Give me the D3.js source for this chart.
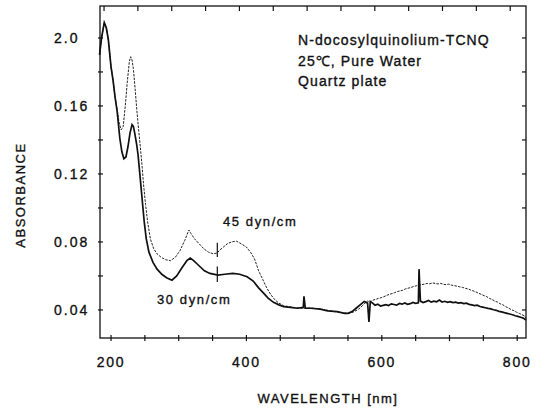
<!DOCTYPE html>
<html>
<head>
<meta charset="utf-8">
<script src="https://cdn.jsdelivr.net/npm/d3@7"></script>
<style>
  html, body { margin: 0; padding: 0; background: #fff; }
  svg { display: block; }
  text { font-family: "Liberation Sans", Arial, Helvetica, sans-serif; fill: #111; stroke: #111; stroke-width: 0.35; }
</style>
</head>
<body>
<svg id="chart" width="540" height="410"></svg>
<script>
// ---------------- data ----------------
const xTickValues = [200, 250, 300, 350, 400, 450, 500, 550, 600, 650, 700, 750, 800];
const xLabelValues = [200, 400, 600, 800];
const xLabels = ["200", "400", "600", "800"];
const yTickValues = [0.04, 0.06, 0.08, 0.10, 0.12, 0.14, 0.16, 0.18, 0.20];
const yLabelValues = [0.04, 0.08, 0.12, 0.16, 0.20];
const yLabels = ["0.04", "0.08", "0.12", "0.16", "2.0"];

const seriesNames = ["45 dyn/cm", "30 dyn/cm"];

// 45 dyn/cm (upper, dotted trace)
const wl45 = [183, 186, 190, 193, 196, 200, 203, 206, 209, 212, 215, 218, 221, 224, 227, 229, 231, 233, 236, 238,
  241, 243, 246, 248, 251, 254, 258, 263, 268, 274, 281, 288, 295, 302, 309, 315, 318, 323, 330, 337,
  344, 351, 357, 360, 366, 372, 378, 385, 392, 400, 406, 412, 418, 424, 430, 436, 442, 448, 455, 462,
  470, 480, 490, 500, 510, 520, 530, 540, 550, 558, 566, 575,
  579, 583, 587, 591, 595, 599, 603, 607, 611, 615, 619, 623, 627, 631, 635, 639, 643, 647, 651, 655,
  659, 663, 667, 671, 675, 679, 683, 687, 691, 695, 699, 703, 707, 711, 715, 719, 723, 727, 731, 735,
  739, 743, 747, 751, 755, 759, 763, 767, 771, 775, 779, 783, 787, 791, 795, 799, 803, 807, 811, 813];
const abs45 = [0.190, 0.200, 0.209, 0.206, 0.199, 0.183, 0.175, 0.165, 0.158, 0.150, 0.146, 0.148, 0.160, 0.174, 0.186, 0.189, 0.187, 0.182, 0.168, 0.158,
  0.145, 0.137, 0.124, 0.114, 0.102, 0.092, 0.082, 0.076, 0.073, 0.071, 0.0695, 0.069, 0.071, 0.075, 0.081, 0.087, 0.085, 0.082, 0.079, 0.076,
  0.074, 0.073, 0.0735, 0.075, 0.077, 0.079, 0.080, 0.0805, 0.079, 0.077, 0.074, 0.070, 0.063, 0.058, 0.053, 0.049, 0.046, 0.044, 0.0425, 0.042,
  0.0415, 0.041, 0.0412, 0.041, 0.0405, 0.0398, 0.039, 0.0385, 0.038, 0.0388, 0.0405, 0.044,
  0.0452, 0.0446, 0.0458, 0.0462, 0.0468, 0.0472, 0.0478, 0.0485, 0.0492, 0.0496, 0.0502, 0.0508, 0.0512, 0.0516, 0.0524, 0.0528, 0.0532, 0.0538, 0.0542, 0.0546,
  0.0549, 0.0552, 0.0556, 0.0554, 0.0559, 0.0556, 0.0553, 0.0556, 0.0551, 0.0549, 0.0552, 0.0546, 0.0543, 0.0540, 0.0536, 0.0533, 0.0528, 0.0524, 0.0518, 0.0512,
  0.0506, 0.0498, 0.0492, 0.0484, 0.0478, 0.0468, 0.0461, 0.0452, 0.0446, 0.0436, 0.0430, 0.0419, 0.0412, 0.0402, 0.0396, 0.0387, 0.0380, 0.0372, 0.0365, 0.035];

// 30 dyn/cm (lower, solid trace)
const wl30 = [183, 186, 190, 193, 196, 200, 203, 206, 209, 213, 216, 219, 222, 225, 228, 231, 233, 235, 238, 240,
  243, 246, 249, 252, 256, 262, 268, 275, 282, 290, 297, 305, 312, 317, 322, 330, 338, 346, 358, 368,
  380, 390, 401, 410, 418, 425, 432, 440, 448, 455, 465, 475, 484, 485, 487, 495, 509, 520, 534, 545,
  550, 556, 562, 568, 574, 579, 581, 583,
  586, 590, 594, 598, 602, 606, 610, 614, 618, 622, 626, 630, 634, 638, 642, 646, 650, 654, 655, 657,
  661, 665, 669, 673, 677, 681, 685, 689, 693, 697, 701, 705, 709, 713, 717, 721, 725, 729, 733, 737,
  741, 745, 749, 753, 757, 761, 765, 769, 773, 777, 781, 785, 789, 793, 797, 801, 805, 809, 813];
const abs30 = [0.190, 0.200, 0.209, 0.206, 0.199, 0.183, 0.175, 0.165, 0.157, 0.141, 0.133, 0.129, 0.130, 0.136, 0.144, 0.149, 0.148, 0.144, 0.137, 0.131,
  0.118, 0.105, 0.092, 0.082, 0.074, 0.068, 0.064, 0.061, 0.059, 0.0575, 0.060, 0.065, 0.069, 0.0705, 0.069, 0.066, 0.063, 0.0615, 0.0605, 0.061,
  0.0615, 0.061, 0.0595, 0.057, 0.053, 0.050, 0.047, 0.0445, 0.043, 0.042, 0.0415, 0.041, 0.0415, 0.048, 0.041, 0.041, 0.0405, 0.0395, 0.039, 0.038,
  0.038, 0.039, 0.041, 0.043, 0.045, 0.044, 0.033, 0.045,
  0.0442, 0.0428, 0.0434, 0.0423, 0.0427, 0.0431, 0.0426, 0.0436, 0.0432, 0.0428, 0.0438, 0.0434, 0.0441, 0.0433, 0.0437, 0.0444, 0.0439, 0.0442, 0.064, 0.0452,
  0.0444, 0.0449, 0.0456, 0.0446, 0.0452, 0.0448, 0.0458, 0.0447, 0.0451, 0.0445, 0.0449, 0.0443, 0.0446, 0.0440, 0.0443, 0.0437, 0.0440, 0.0433, 0.0430, 0.0426,
  0.0428, 0.0420, 0.0417, 0.0413, 0.0409, 0.0406, 0.0401, 0.0398, 0.0392, 0.0389, 0.0384, 0.0380, 0.0376, 0.0372, 0.0366, 0.0362, 0.0357, 0.0352, 0.034];

// vertical instrument marks crossing the traces near 357 nm
const markNm = [357, 357];
const markLo = [0.0712, 0.0565];
const markHi = [0.0795, 0.0655];

const annotations = ["N-docosylquinolium-TCNQ", "25\u2103, Pure Water", "Quartz plate"];
const xTitle = "WAVELENGTH [nm]";
const yTitle = "ABSORBANCE";

// ---------------- drawing ----------------
const svg = d3.select("#chart");
const L = 100, R = 526, T = 6, B = 338;
const x = d3.scaleLinear().domain([183.7, 813]).range([L, R]);
const y = d3.scaleLinear().domain([0.0235, 0.2188]).range([B, T]);

// frame
svg.append("rect").attr("x", L).attr("y", T).attr("width", R - L).attr("height", B - T)
  .attr("fill", "none").attr("stroke", "#111").attr("stroke-width", 1.3);

// x ticks bottom (crossing) and top (inward)
svg.append("g").selectAll("line").data(xTickValues).join("line")
  .attr("x1", d => x(d)).attr("x2", d => x(d)).attr("y1", B - 3).attr("y2", B + 3)
  .attr("stroke", "#111").attr("stroke-width", 1.2);
svg.append("g").selectAll("line").data(xTickValues).join("line")
  .attr("x1", d => x(d) - 7).attr("x2", d => x(d) - 7).attr("y1", T).attr("y2", T + 5)
  .attr("stroke", "#111").attr("stroke-width", 1.2);

// y ticks left and right
svg.append("g").selectAll("line").data(yTickValues).join("line")
  .attr("x1", L - 2).attr("x2", L + 3).attr("y1", d => y(d)).attr("y2", d => y(d))
  .attr("stroke", "#111").attr("stroke-width", 1.2);
svg.append("g").selectAll("line").data(yTickValues).join("line")
  .attr("x1", R - 4).attr("x2", R).attr("y1", d => y(d)).attr("y2", d => y(d))
  .attr("stroke", "#111").attr("stroke-width", 1.2);

// tick labels
svg.append("g").selectAll("text").data(xLabelValues).join("text")
  .attr("x", d => x(d)).attr("y", 367)
  .attr("text-anchor", "middle").attr("font-size", 14).attr("letter-spacing", 1.8)
  .text((d, i) => xLabels[i]);
svg.append("g").selectAll("text").data(yLabelValues).join("text")
  .attr("x", 54).attr("y", d => y(d) + 5)
  .attr("text-anchor", "start").attr("font-size", 14).attr("letter-spacing", 2)
  .text((d, i) => yLabels[i]);

// axis titles
svg.append("text").attr("x", 328).attr("y", 403).attr("text-anchor", "middle")
  .attr("font-size", 13).attr("letter-spacing", 1.5).text(xTitle);
svg.append("text").attr("transform", "translate(25,195) rotate(-90)").attr("text-anchor", "middle")
  .attr("font-size", 13).attr("letter-spacing", 1.5).text(yTitle);

// traces
const line = d3.line().x(d => x(d[0])).y(d => y(d[1])).curve(d3.curveLinear);
const d45 = wl45.map((w, i) => [w, abs45[i]]);
const d30 = wl30.map((w, i) => [w, abs30[i]]);
svg.append("path").datum(d45).attr("d", line).attr("fill", "none")
  .attr("stroke", "#222").attr("stroke-width", 1).attr("stroke-dasharray", "2.5,1.2");
svg.append("path").datum(d30).attr("d", line).attr("fill", "none")
  .attr("stroke", "#111").attr("stroke-width", 1.7);

// instrument marks
svg.append("g").selectAll("line").data(markNm).join("line")
  .attr("x1", d => x(d)).attr("x2", d => x(d))
  .attr("y1", (d, i) => y(markLo[i])).attr("y2", (d, i) => y(markHi[i]))
  .attr("stroke", "#111").attr("stroke-width", 1.2);

// annotations
svg.append("g").selectAll("text").data(annotations).join("text")
  .attr("x", 298).attr("y", (d, i) => 45 + i * 20.5)
  .attr("font-size", 14).attr("letter-spacing", 1.1).text(d => d);

svg.append("text").attr("x", 223).attr("y", 226).attr("font-size", 13).attr("letter-spacing", 1.6).text(seriesNames[0]);
svg.append("text").attr("x", 157).attr("y", 304).attr("font-size", 13).attr("letter-spacing", 1.6).text(seriesNames[1]);
</script>
</body>
</html>
